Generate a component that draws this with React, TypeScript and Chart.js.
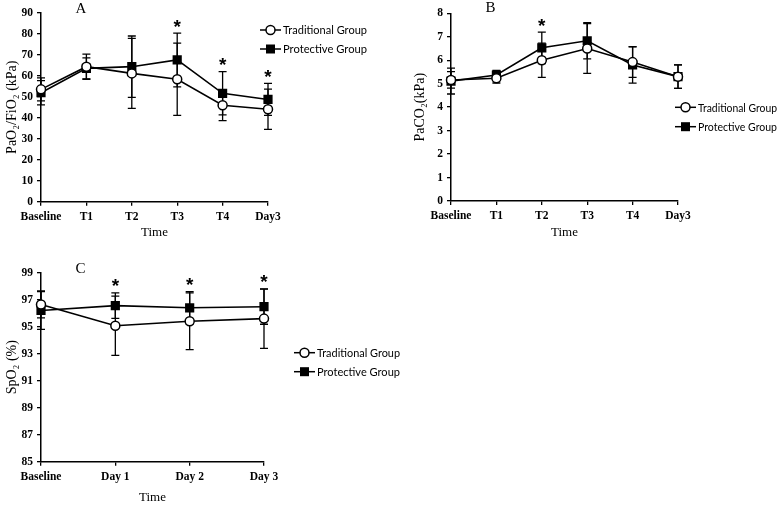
import React, { useEffect, useRef } from "react";
import { Chart, registerables } from "chart.js";
Chart.register(...registerables);

// Panel A: PaO2/FiO2
const timeA = ["Baseline", "T1", "T2", "T3", "T4", "Day3"];
const tradA = [53.5, 64.3, 61.1, 58.3, 45.9, 44.0];
const tradSdA = [5.5, 6.0, 16.7, 17.2, 7.3, 9.6];
const protA = [51.9, 63.5, 64.3, 67.5, 51.6, 48.7];
const protSdA = [5.8, 5.0, 14.6, 12.8, 10.3, 7.6];
const sigA = [false, false, false, true, true, true];
const ticksA = [0, 10, 20, 30, 40, 50, 60, 70, 80, 90];

// Panel B: PaCO2
const timeB = ["Baseline", "T1", "T2", "T3", "T4", "Day3"];
const tradB = [5.16, 5.23, 6.0, 6.5, 5.92, 5.3];
const tradSdB = [0.35, 0.2, 0.73, 1.06, 0.65, 0.5];
const protB = [5.11, 5.37, 6.53, 6.83, 5.8, 5.3];
const protSdB = [0.55, 0.2, 0.67, 0.77, 0.78, 0.5];
const sigB = [false, false, true, false, false, false];
const ticksB = [0, 1, 2, 3, 4, 5, 6, 7, 8];

// Panel C: SpO2
const timeC = ["Baseline", "Day 1", "Day 2", "Day 3"];
const tradC = [96.65, 95.07, 95.4, 95.6];
const tradSdC = [1.0, 2.2, 2.1, 2.2];
const protC = [96.2, 96.56, 96.4, 96.48];
const protSdC = [1.4, 0.95, 1.2, 1.3];
const sigC = [false, true, true, true];
const ticksC = [85, 87, 89, 91, 93, 95, 97, 99];

const seriesNames = ["Traditional Group", "Protective Group"];

type PanelCfg = {
  labels: string[];
  trad: number[];
  tradSd: number[];
  prot: number[];
  protSd: number[];
  sig: boolean[];
  ticks: number[];
  yTitle: string;
  letter: string;
  letterX: number;
  letterY: number;
  legX: number;
  legY: number;
  legGap: number;
  legTextW: number;
  pad: { left: number; top: number; right: number; bottom: number };
  yWidth: number;
  xHeight: number;
  width: number;
  height: number;
  left: number;
  top: number;
};

const SERIF = "'Liberation Serif', 'Times New Roman', serif";
const SANS = "Lato, 'Noto Sans', sans-serif";

function makeOverlay(cfg: PanelCfg) {
  return {
    id: "overlay",
    beforeDatasetsDraw(chart: any) {
      const ctx = chart.ctx;
      const xs = chart.scales.x;
      const ys = chart.scales.y;
      ctx.save();
      ctx.strokeStyle = "#000";
      ctx.lineWidth = 1.3;
      const groups: [number[], number[]][] = [
        [cfg.prot, cfg.protSd],
        [cfg.trad, cfg.tradSd],
      ];
      groups.forEach(([m, s]) => {
        m.forEach((v, i) => {
          const px = xs.getPixelForValue(i);
          const t = ys.getPixelForValue(v + s[i]);
          const b = ys.getPixelForValue(v - s[i]);
          ctx.beginPath();
          ctx.moveTo(px, t);
          ctx.lineTo(px, b);
          ctx.moveTo(px - 4, t);
          ctx.lineTo(px + 4, t);
          ctx.moveTo(px - 4, b);
          ctx.lineTo(px + 4, b);
          ctx.stroke();
        });
      });
      ctx.restore();
    },
    afterDraw(chart: any) {
      const ctx = chart.ctx;
      const xs = chart.scales.x;
      const ys = chart.scales.y;
      ctx.save();
      // asterisks
      ctx.fillStyle = "#000";
      ctx.font = "bold 19px 'Liberation Sans', Arial, sans-serif";
      ctx.textAlign = "center";
      ctx.textBaseline = "alphabetic";
      cfg.sig.forEach((s, i) => {
        if (!s) return;
        const hi = Math.max(cfg.trad[i] + cfg.tradSd[i], cfg.prot[i] + cfg.protSd[i]);
        const cy = ys.getPixelForValue(hi) - 11;
        ctx.fillText("*", xs.getPixelForValue(i), cy + 10.5);
      });
      // panel letter
      ctx.font = `15px ${SERIF}`;
      ctx.textBaseline = "middle";
      ctx.fillText(cfg.letter, cfg.letterX, cfg.letterY);
      // legend
      ctx.textAlign = "left";
      ctx.font = `11.5px ${SANS}`;
      seriesNames.forEach((name, k) => {
        const y = cfg.legY + k * cfg.legGap;
        const x0 = cfg.legX;
        ctx.strokeStyle = "#000";
        ctx.lineWidth = 1.5;
        ctx.beginPath();
        ctx.moveTo(x0, y);
        ctx.lineTo(x0 + 21, y);
        ctx.stroke();
        if (k === 0) {
          ctx.beginPath();
          ctx.arc(x0 + 10.5, y, 4.5, 0, Math.PI * 2);
          ctx.fillStyle = "#fff";
          ctx.fill();
          ctx.stroke();
        } else {
          ctx.fillStyle = "#000";
          ctx.fillRect(x0 + 6, y - 4.5, 9, 9);
        }
        ctx.fillStyle = "#000";
        ctx.fillText(name, x0 + 23, y + 0.5, cfg.legTextW);
      });
      ctx.restore();
    },
  };
}

function Panel({ cfg }: { cfg: PanelCfg }) {
  const ref = useRef<HTMLCanvasElement | null>(null);
  useEffect(() => {
    if (!ref.current) return;
    const tickMin = cfg.ticks[0];
    const tickMax = cfg.ticks[cfg.ticks.length - 1];
    const step = cfg.ticks[1] - cfg.ticks[0];
    const chart = new Chart(ref.current, {
      type: "line",
      data: {
        labels: cfg.labels,
        datasets: [
          {
            label: seriesNames[0],
            data: cfg.trad,
            borderColor: "#000",
            borderWidth: 1.6,
            pointStyle: "circle",
            pointRadius: 4.5,
            pointBorderWidth: 1.5,
            pointBackgroundColor: "#fff",
            pointBorderColor: "#000",
            tension: 0,
          },
          {
            label: seriesNames[1],
            data: cfg.prot,
            borderColor: "#000",
            borderWidth: 1.6,
            pointStyle: "rect",
            pointRadius: 6.5,
            pointBorderWidth: 0,
            pointBackgroundColor: "#000",
            pointBorderColor: "#000",
            tension: 0,
          },
        ],
      },
      options: {
        animation: false,
        responsive: false,
        maintainAspectRatio: false,
        devicePixelRatio: 1,
        layout: { padding: cfg.pad },
        plugins: { legend: { display: false }, tooltip: { enabled: false } },
        scales: {
          x: {
            type: "category",
            offset: false,
            afterFit: (s: any) => {
              s.height = cfg.xHeight;
            },
            grid: {
              display: true,
              drawOnChartArea: false,
              drawTicks: true,
              tickLength: 4,
              color: "#000",
              lineWidth: 1.3,
            },
            border: { display: true, color: "#000", width: 1.5 },
            ticks: {
              color: "#000",
              padding: 4,
              maxRotation: 0,
              autoSkip: false,
              font: { family: SERIF, size: 11.5, weight: "bold" },
            },
            title: {
              display: true,
              text: "Time",
              color: "#000",
              padding: { top: 0, bottom: 0 },
              font: { family: SERIF, size: 13 },
            },
          },
          y: {
            min: tickMin,
            max: tickMax,
            afterFit: (s: any) => {
              s.width = cfg.yWidth;
            },
            ticks: {
              stepSize: step,
              color: "#000",
              padding: 4,
              font: { family: SERIF, size: 11.5, weight: "bold" },
            },
            grid: {
              display: true,
              drawOnChartArea: false,
              drawTicks: true,
              tickLength: 4,
              color: "#000",
              lineWidth: 1.3,
            },
            border: { display: true, color: "#000", width: 1.5 },
            title: {
              display: true,
              text: cfg.yTitle,
              color: "#000",
              padding: { top: 4, bottom: 0 },
              font: { family: SERIF, size: 14 },
            },
          },
        },
      },
      plugins: [makeOverlay(cfg)],
    } as any);
    return () => chart.destroy();
  }, [cfg]);
  return (
    <canvas
      ref={ref}
      width={cfg.width}
      height={cfg.height}
      style={{
        position: "absolute",
        left: cfg.left,
        top: cfg.top,
        width: cfg.width,
        height: cfg.height,
      }}
    />
  );
}

const panelA: PanelCfg = {
  labels: timeA,
  trad: tradA,
  tradSd: tradSdA,
  prot: protA,
  protSd: protSdA,
  sig: sigA,
  ticks: ticksA,
  yTitle: "PaO₂/FiO₂ (kPa)",
  letter: "A",
  letterX: 81,
  letterY: 9,
  legX: 260,
  legY: 30,
  legGap: 19,
  legTextW: 84,
  pad: { left: 0, top: 12.7, right: 122, bottom: 0 },
  yWidth: 41,
  xHeight: 38.3,
  width: 390,
  height: 240,
  left: 0,
  top: 0,
};

const panelB: PanelCfg = {
  labels: timeB,
  trad: tradB,
  tradSd: tradSdB,
  prot: protB,
  protSd: protSdB,
  sig: sigB,
  ticks: ticksB,
  yTitle: "PaCO₂(kPa)",
  letter: "B",
  letterX: 100.5,
  letterY: 8,
  legX: 285,
  legY: 107.3,
  legGap: 19.4,
  legTextW: 79,
  pad: { left: 18, top: 13.3, right: 100, bottom: 0 },
  yWidth: 43,
  xHeight: 39,
  width: 388,
  height: 240,
  left: 390,
  top: 0,
};

const panelC: PanelCfg = {
  labels: timeC,
  trad: tradC,
  tradSd: tradSdC,
  prot: protC,
  protSd: protSdC,
  sig: sigC,
  ticks: ticksC,
  yTitle: "SpO₂ (%)",
  letter: "C",
  letterX: 80.5,
  letterY: 19.5,
  legX: 294,
  legY: 102.7,
  legGap: 19,
  legTextW: 83,
  pad: { left: 0, top: 22.7, right: 156, bottom: 0 },
  yWidth: 41,
  xHeight: 43.3,
  width: 420,
  height: 255,
  left: 0,
  top: 250,
};

export default function App() {
  return (
    <div
      style={{
        position: "absolute",
        left: 0,
        top: 0,
        width: 778,
        height: 505,
        overflow: "hidden",
        background: "#fff",
      }}
    >
      <Panel cfg={panelA} />
      <Panel cfg={panelB} />
      <Panel cfg={panelC} />
    </div>
  );
}
